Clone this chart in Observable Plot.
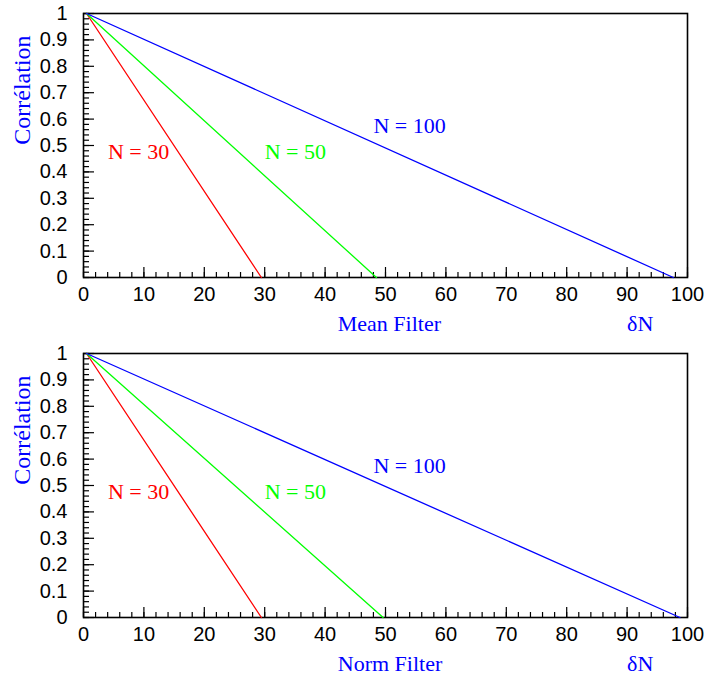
<!DOCTYPE html>
<html>
<head>
<meta charset="utf-8">
<script src="https://cdn.jsdelivr.net/npm/d3@7"></script>
<script src="https://cdn.jsdelivr.net/npm/@observablehq/plot@0.6"></script>
<style>
  html, body { margin: 0; padding: 0; background: #fff; }
  #chart svg { display: block; }
</style>
</head>
<body>
<div id="chart"></div>
<script>
// ---- data ----
const seriesNames = ["N = 30", "N = 50", "N = 100"];
const seriesColors = ["#ff0000", "#00ff00", "#0000ff"];
const startDN = 0.5;               // δN where every line starts (correlation 1)
const startCorr = 1;
const endCorr = 0;
const meanEndDN = [29.45, 48.5, 97.65];   // δN where correlation reaches 0 (Mean Filter)
const normEndDN = [29.45, 49.6, 98.75];   // δN where correlation reaches 0 (Norm Filter)
const xTicks = [0, 10, 20, 30, 40, 50, 60, 70, 80, 90, 100];
const xMinor = d3.range(0, 101, 2);
const yTicks = [0, 0.1, 0.2, 0.3, 0.4, 0.5, 0.6, 0.7, 0.8, 0.9, 1];
const yTickLabels = ["0", "0.1", "0.2", "0.3", "0.4", "0.5", "0.6", "0.7", "0.8", "0.9", "1"];
const yMinor = d3.range(0, 51).map(i => i / 50);
const panelTitles = ["Mean Filter", "Norm Filter"];
const yTitle = "Corrélation";
const xUnit = "δN";

const W = 706, ML = 83, MR = 19;
const innerH = 264;
const serif = "'Liberation Serif', 'Times New Roman', serif";

function rows(ends) {
  const out = [];
  seriesNames.forEach((name, i) => {
    out.push({name, color: seriesColors[i], dn: startDN, corr: startCorr});
    out.push({name, color: seriesColors[i], dn: ends[i], corr: endCorr});
  });
  return out;
}

function panel(ends, title, height, marginTop) {
  const marginBottom = height - marginTop - innerH;
  const innerW = W - ML - MR;
  return Plot.plot({
    width: W, height, marginLeft: ML, marginRight: MR, marginTop, marginBottom,
    style: {fontFamily: "'Liberation Sans', Arial, sans-serif", fontSize: "20px", color: "black", background: "white"},
    x: {domain: [0, 100], axis: null},
    y: {domain: [0, 1], axis: null},
    marks: [
      // inward minor / major ticks
      Plot.ruleX(xMinor, {x: d => d, insetTop: innerH - 5, stroke: "black", strokeWidth: 1.2}),
      Plot.ruleX(xTicks, {x: d => d, insetTop: innerH - 10, stroke: "black", strokeWidth: 1.2}),
      Plot.ruleY(yMinor, {y: d => d, insetRight: innerW - 6, stroke: "black", strokeWidth: 1.2}),
      Plot.ruleY(yTicks, {y: d => d, insetRight: innerW - 11, stroke: "black", strokeWidth: 1.2}),
      Plot.frame({stroke: "black", strokeWidth: 1.6}),
      Plot.axisX({ticks: xTicks, tickSize: 0, tickPadding: 9, tickFormat: d => String(d), label: null, fontSize: 20}),
      Plot.axisY({ticks: yTicks, tickSize: 0, tickPadding: 16, tickFormat: d => yTickLabels[yTicks.indexOf(d)], label: null, fontSize: 20}),
      Plot.line(rows(ends), {x: "dn", y: "corr", z: "name", stroke: "color", strokeWidth: 1.3}),
      // series labels
      Plot.text([0, 1, 2], {
        x: i => [4.05, 30.0, 48.0][i],
        y: i => [0.447, 0.447, 0.549][i],
        text: i => seriesNames[i], fill: i => seriesColors[i],
        textAnchor: "start", lineAnchor: "bottom", fontFamily: serif, fontSize: 22
      }),
      // axis titles
      Plot.text([title], {x: 42.1, frameAnchor: "bottom", dy: 53, text: d => d, textAnchor: "start", lineAnchor: "bottom", fill: "#0000ff", fontFamily: serif, fontSize: 22}),
      Plot.text([xUnit], {x: 90.0, frameAnchor: "bottom", dy: 53, text: d => d, textAnchor: "start", lineAnchor: "bottom", fill: "#0000ff", fontFamily: serif, fontSize: 22}),
      Plot.text([yTitle], {frameAnchor: "left", y: 0.71, dx: -54, rotate: -90, text: d => d, textAnchor: "middle", lineAnchor: "bottom", fill: "#0000ff", fontFamily: serif, fontSize: 24})
    ]
  });
}

const el = document.getElementById("chart");
el.appendChild(panel(meanEndDN, panelTitles[0], 339, 13));
el.appendChild(panel(normEndDN, panelTitles[1], 338, 14));
</script>
</body>
</html>
